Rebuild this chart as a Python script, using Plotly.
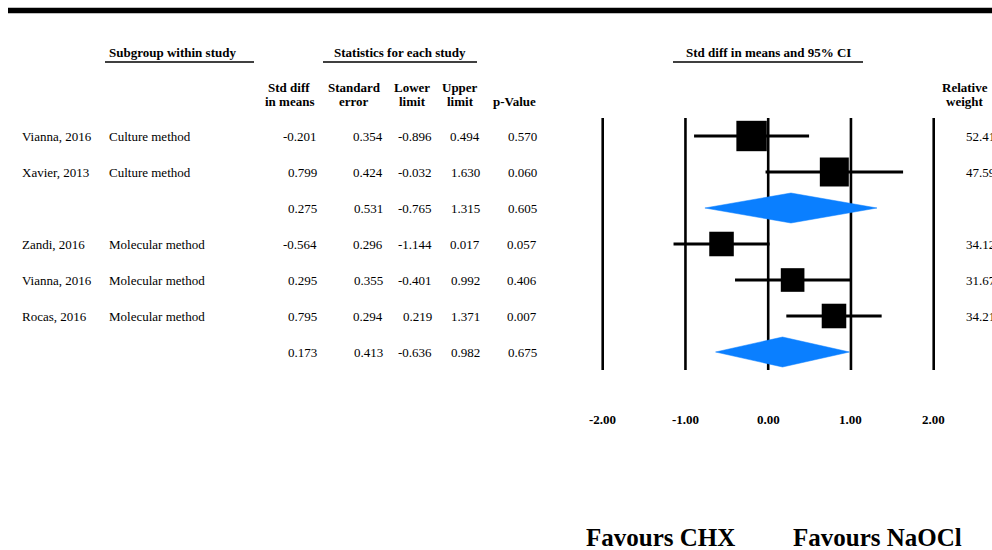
import plotly.graph_objects as go
import numpy as np

# ---------------- data ----------------
studies = ["Vianna, 2016", "Xavier, 2013", "", "Zandi, 2016", "Vianna, 2016", "Rocas, 2016", ""]
subgroups = ["Culture method", "Culture method", "", "Molecular method", "Molecular method", "Molecular method", ""]
std_diff = [-0.201, 0.799, 0.275, -0.564, 0.295, 0.795, 0.173]
std_err = [0.354, 0.424, 0.531, 0.296, 0.355, 0.294, 0.413]
lower = [-0.896, -0.032, -0.765, -1.144, -0.401, 0.219, -0.636]
upper = [0.494, 1.630, 1.315, 0.017, 0.992, 1.371, 0.982]
p_values = [0.570, 0.060, 0.605, 0.057, 0.406, 0.007, 0.675]
rel_weight = [52.41, 47.59, None, 34.12, 31.67, 34.21, None]
is_summary = [False, False, True, False, False, False, True]
axis_ticks = [-2.0, -1.0, 0.0, 1.0, 2.0]
left_label = "Favours CHX"
right_label = "Favours NaOCl"

# ---------------- layout helpers ----------------
W, H = 992, 550
FONT = "Liberation Serif, Times New Roman, serif"
X0_PX, UNIT_PX = 768.2, 82.75        # pixel of 0 and pixels per unit
ROW0_PX, ROW_PX = 136.0, 36.0        # pixel of first row and row spacing
xr = [(0 - X0_PX) / UNIT_PX, (W - X0_PX) / UNIT_PX]
yr = [(H - ROW0_PX) / ROW_PX, (0 - ROW0_PX) / ROW_PX]


def px(x):
    return x / W


def py(y):
    return 1 - y / H


rows = list(range(len(std_diff)))
fig = go.Figure()

# CI lines for studies
cx, cy = [], []
for i in rows:
    if not is_summary[i]:
        cx += [lower[i], upper[i], None]
        cy += [i, i, None]
fig.add_trace(go.Scatter(x=cx, y=cy, mode="lines", line=dict(color="black", width=3),
                         hoverinfo="skip", showlegend=False, cliponaxis=False))

# squares sized by weight
sx = [std_diff[i] for i in rows if not is_summary[i]]
sy = [i for i in rows if not is_summary[i]]
ss = [4.2 * np.sqrt(rel_weight[i]) for i in rows if not is_summary[i]]
fig.add_trace(go.Scatter(x=sx, y=sy, mode="markers",
                         marker=dict(symbol="square", size=ss, color="black", opacity=1,
                                     line=dict(width=0)),
                         showlegend=False, cliponaxis=False))

# summary diamonds
dh = 15 / ROW_PX
for i in rows:
    if is_summary[i]:
        fig.add_trace(go.Scatter(
            x=[lower[i], std_diff[i], upper[i], std_diff[i], lower[i]],
            y=[i, i - dh, i, i + dh, i],
            mode="lines", fill="toself", fillcolor="#0a7fff",
            line=dict(color="#0a7fff", width=0.5), showlegend=False, hoverinfo="skip"))

shapes = []
# vertical reference lines
for t in axis_ticks:
    shapes.append(dict(type="line", xref="x", yref="y", x0=t, x1=t, y0=-0.5, y1=len(rows) - 0.5,
                       line=dict(color="black", width=2.6), layer="below"))
# top thick bar
shapes.append(dict(type="line", xref="paper", yref="paper", x0=px(8), x1=px(992), y0=py(10.5), y1=py(10.5),
                   line=dict(color="black", width=5.5)))
# header underlines
for a, b in [(105, 254), (323, 477), (673, 863)]:
    shapes.append(dict(type="line", xref="paper", yref="paper", x0=px(a), x1=px(b), y0=py(62), y1=py(62),
                       line=dict(color="black", width=1.5)))

ann = []


def txt(text, x, y, xanchor="left", size=13, bold=False, xref="paper", yref="paper"):
    ann.append(dict(text=f"<b>{text}</b>" if bold else text, x=x, y=y, xref=xref, yref=yref,
                    xanchor=xanchor, yanchor="middle", showarrow=False,
                    font=dict(family=FONT, size=size, color="black")))


# headers
txt("Subgroup within study", px(107), py(53), "left", bold=True)
txt("Statistics for each study", px(400), py(53), "center", bold=True)
txt("Std diff in means and 95% CI", px(768), py(53), "center", bold=True)
for l1, l2, cxp in [("Std diff", "in means", 289), ("Standard", "error", 354),
                    ("Lower", "limit", 412), ("Upper", "limit", 460), ("Relative", "weight", 965)]:
    txt(l1, px(cxp), py(87), "center", bold=True)
    txt(l2, px(cxp), py(101.5), "center", bold=True)
txt("p-Value", px(514), py(101.5), "center", bold=True)

# table rows
for i in rows:
    if studies[i]:
        txt(studies[i], px(20), i, "left", yref="y")
    if subgroups[i]:
        txt(subgroups[i], px(107), i, "left", yref="y")
    for vals, right in [(std_diff, 319), (std_err, 385), (lower, 434), (upper, 482), (p_values, 539)]:
        txt(f"{vals[i]:.3f}", px(right), i, "right", yref="y")
    if rel_weight[i] is not None:
        txt(f"{rel_weight[i]:.2f}", px(964), i, "left", yref="y")

# tick labels
for t in axis_ticks:
    txt(f"{t:.2f}", t, py(419), "center", bold=True, xref="x")

# favours labels
txt(left_label, px(660), py(537), "center", size=25, bold=True)
txt(right_label, px(877), py(537), "center", size=25, bold=True)

fig.update_layout(
    width=W, height=H, autosize=False,
    margin=dict(l=0, r=0, t=0, b=0, pad=0),
    paper_bgcolor="white", plot_bgcolor="white",
    xaxis=dict(range=xr, visible=False, fixedrange=True),
    yaxis=dict(range=yr, visible=False, fixedrange=True),
    shapes=shapes, annotations=ann, showlegend=False,
)

fig.write_html(
    "out.html",
    config={"displayModeBar": False},
    post_script="document.body.style.margin='0';document.body.style.overflow='hidden';",
)
